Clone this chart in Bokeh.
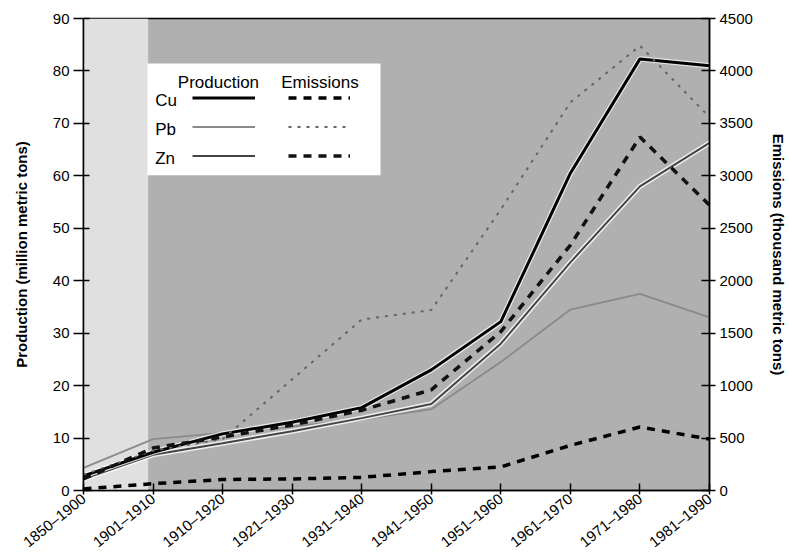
from bokeh.plotting import figure
from bokeh.models import (Range1d, LinearAxis, FixedTicker, BoxAnnotation, Label,
                          Legend, LegendItem)
from bokeh.embed import file_html
from bokeh.resources import INLINE

# ---- data ----
periods = ["1850–1900", "1901–1910", "1910–1920", "1921–1930", "1931–1940",
           "1941–1950", "1951–1960", "1961–1970", "1971–1980", "1981–1990"]
# production, million metric tons (left axis)
cu_prod = [2.8, 7.3, 10.8, 13.0, 15.8, 23.0, 32.2, 60.5, 82.3, 81.0]
pb_prod = [4.3, 9.8, 11.0, 12.2, 13.5, 15.5, 24.5, 34.5, 37.5, 33.0]
zn_prod = [2.2, 6.8, 9.0, 11.3, 13.8, 16.5, 28.0, 43.5, 58.0, 66.3]
# emissions, thousand metric tons (right axis)
cu_emis = [15, 65, 105, 110, 125, 180, 225, 430, 605, 490]
pb_emis = [150, 380, 490, 1060, 1630, 1720, 2680, 3700, 4240, 3560]
zn_emis = [110, 405, 510, 625, 765, 960, 1515, 2340, 3370, 2720]
left_ticks = [0, 10, 20, 30, 40, 50, 60, 70, 80, 90]
right_ticks = [0, 500, 1000, 1500, 2000, 2500, 3000, 3500, 4000, 4500]

x = list(range(len(periods)))
FONT = "Liberation Sans"

p = figure(width=789, height=559, x_range=Range1d(0, 9), y_range=Range1d(0, 90),
           output_backend="svg", toolbar_location=None,
           min_border_left=83, min_border_right=80, min_border_top=18, min_border_bottom=69)
p.extra_y_ranges = {"em": Range1d(0, 4500)}
p.background_fill_color = "#b0b0b0"
p.border_fill_color = "white"
p.outline_line_color = "black"
p.outline_line_width = 1.5
p.grid.visible = False

# background band (lighter first interval)
p.add_layout(BoxAnnotation(right=0.93, fill_color="#e0e0e0", fill_alpha=1.0,
                           line_color=None, level="underlay"))

def style_axis(ax, size="15px"):
    ax.axis_line_color = "black"
    ax.axis_line_width = 1.5
    ax.major_tick_line_color = "black"
    ax.major_tick_line_width = 1.5
    ax.minor_tick_line_color = None
    ax.major_label_text_font = FONT
    ax.major_label_text_font_size = size
    ax.major_label_text_color = "black"
    ax.axis_label_text_font = FONT
    ax.axis_label_text_font_size = "15px"
    ax.axis_label_text_font_style = "bold"
    ax.axis_label_text_color = "black"

xa = p.xaxis[0]
style_axis(xa, "15px")
xa.ticker = FixedTicker(ticks=x)
xa.major_label_overrides = {i: s for i, s in zip(x, periods)}
xa.major_label_orientation = 0.68
xa.major_tick_in = 7
xa.major_tick_out = 4
xa.major_label_standoff = 2

ya = p.yaxis[0]
style_axis(ya)
ya.ticker = FixedTicker(ticks=left_ticks)
ya.axis_label = "Production (million metric tons)"
ya.major_tick_in = 6
ya.major_tick_out = 10
ya.major_label_standoff = 4
ya.axis_label_standoff = 20

ra = LinearAxis(y_range_name="em", axis_label="Emissions (thousand metric tons)")
style_axis(ra)
ra.ticker = FixedTicker(ticks=right_ticks)
ra.major_tick_in = 8
ra.major_tick_out = 6
ra.major_label_standoff = 4
ra.axis_label_standoff = 14
p.add_layout(ra, "right")

# ---- series ----
pb_p = p.line(x, pb_prod, line_color="#8a8a8a", line_width=1.8)
zn_halo = p.line(x, zn_prod, line_color="white", line_width=5, line_alpha=0.8)
zn_p = p.line(x, zn_prod, line_color="#444444", line_width=2)
cu_halo = p.line(x, cu_prod, line_color="white", line_width=5.5, line_alpha=0.7)
cu_p = p.line(x, cu_prod, line_color="black", line_width=3)

pb_e = p.line(x, pb_emis, y_range_name="em", line_color="#666666", line_width=2,
              line_dash="3 6")
zn_e = p.line(x, zn_emis, y_range_name="em", line_color="#111111", line_width=3.5,
              line_dash="8 7")
cu_e = p.line(x, cu_emis, y_range_name="em", line_color="black", line_width=3.5,
              line_dash="8 7")

# ---- legend panel ----
p.add_layout(BoxAnnotation(left=0.92, right=4.27, top=81.4, bottom=60.1,
                           fill_color="white", fill_alpha=1.0, line_color=None))

def lab(xv, yv, txt, align="left"):
    p.add_layout(Label(x=xv, y=yv, text=txt, text_font=FONT, text_font_size="17px",
                       text_align=align, text_baseline="middle", text_color="black"))

lab(1.94, 77.8, "Production", "center")
lab(3.40, 77.8, "Emissions", "center")
lab(1.03, 74.3, "Cu")
lab(1.03, 68.9, "Pb")
lab(1.03, 63.4, "Zn")

def sample_legend(items, loc, gw):
    lg = Legend(items=items, location=loc, glyph_width=gw, glyph_height=21, spacing=8,
                padding=0, margin=0, label_width=0, label_standoff=0,
                label_text_font_size="1px", background_fill_alpha=0,
                border_line_alpha=0)
    p.add_layout(lg)

sample_legend([LegendItem(label=" ", renderers=[cu_p]),
               LegendItem(label=" ", renderers=[pb_p]),
               LegendItem(label=" ", renderers=[zn_p])], (109, 324), 63)
sample_legend([LegendItem(label=" ", renderers=[cu_e]),
               LegendItem(label=" ", renderers=[pb_e]),
               LegendItem(label=" ", renderers=[zn_e])], (205, 324), 62)

open("out.html", "w").write(file_html(p, INLINE))
